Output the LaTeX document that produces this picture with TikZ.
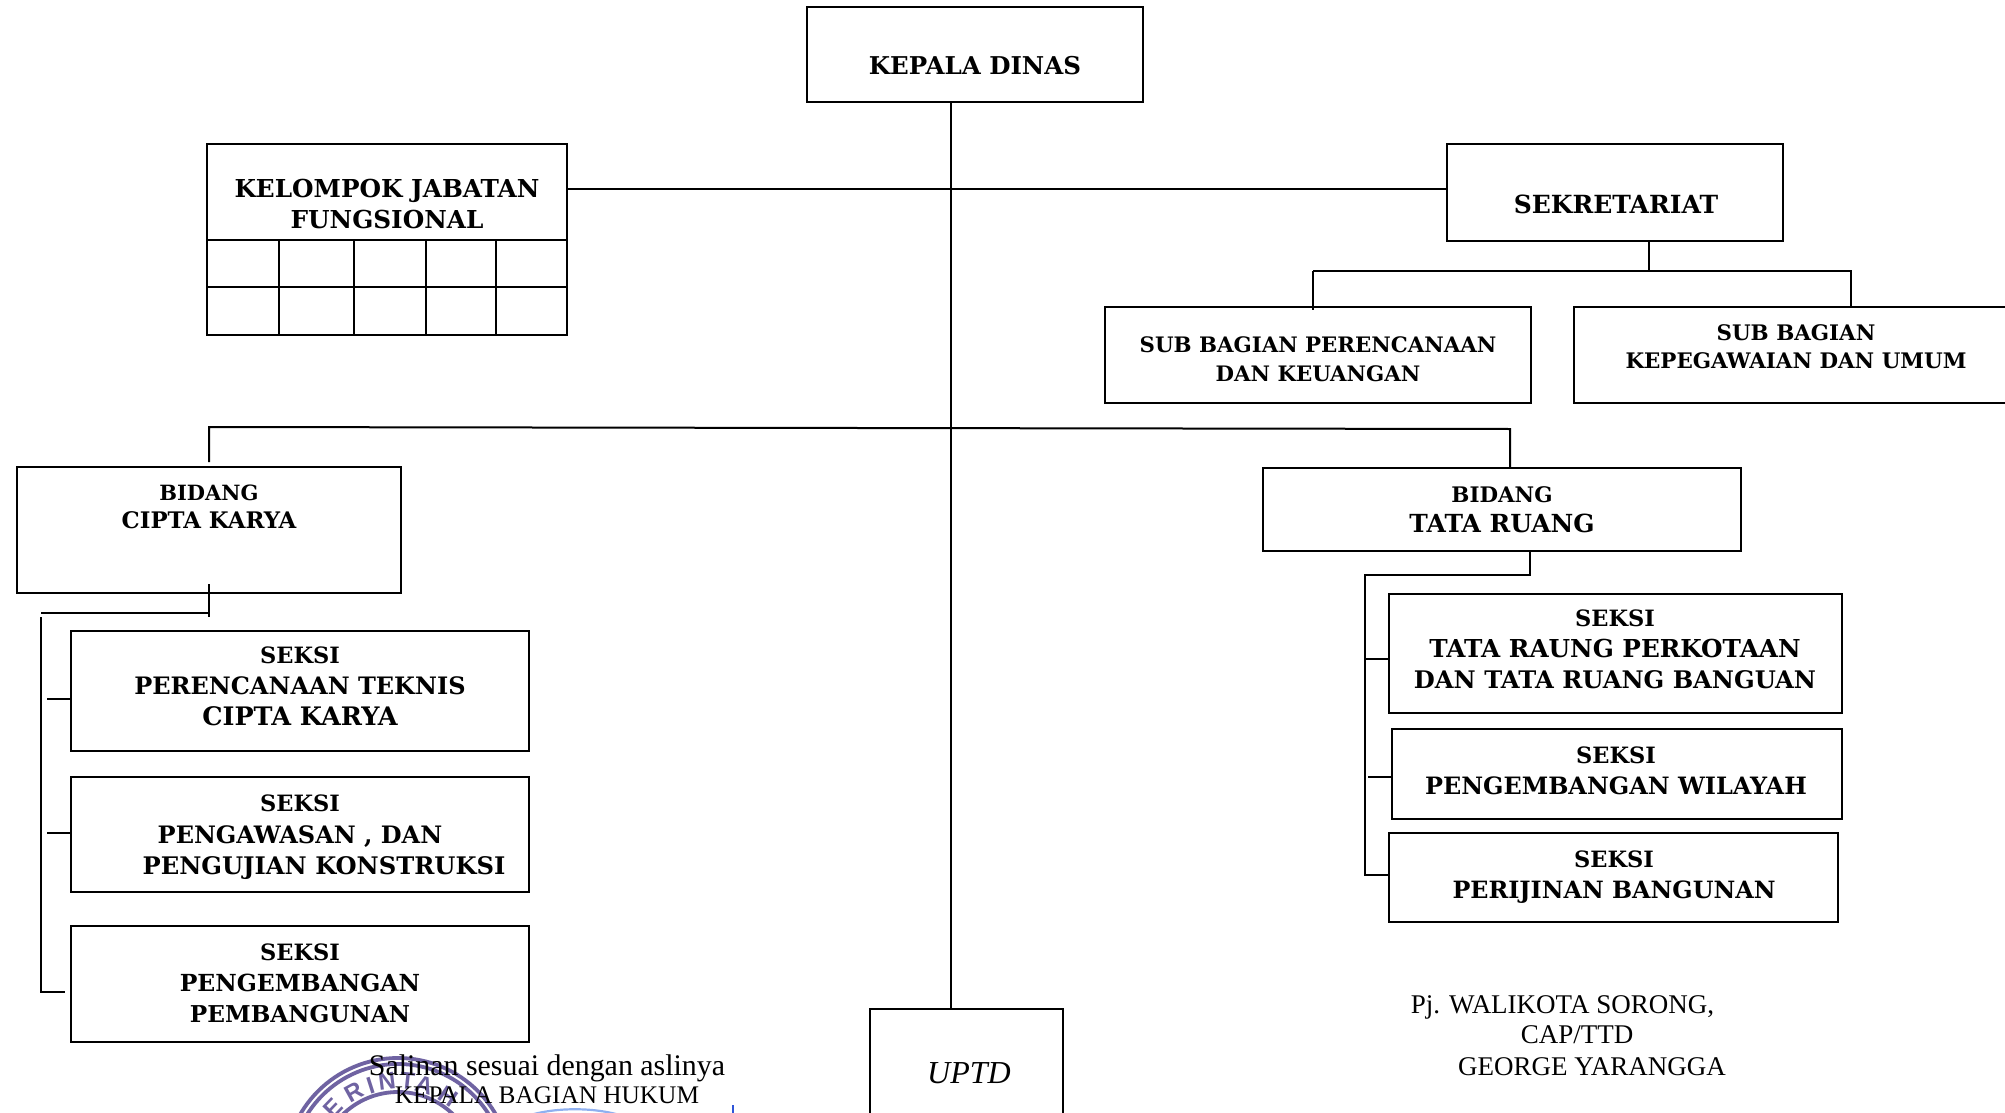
\documentclass[tikz,border=0pt]{standalone}
\usepackage{fontspec}
\setmainfont{Liberation Serif}
\newfontfamily\bkfont{DejaVu Serif}
\newfontfamily\stampfont{Liberation Sans}
\usetikzlibrary{fit,calc}
\definecolor{stampc}{HTML}{6F63A2}
\definecolor{signl}{HTML}{8FB0F0}
\definecolor{signd}{HTML}{2F55D8}
\newcommand{\sz}[2]{\fontsize{#1}{31}\selectfont #2}
\newcommand{\mkbox}[5]{\node[boxn,fit={(#2,#3)(#4,#5)}] (#1) {};}
\tikzset{
  boxn/.style={draw=black,line width=2pt,inner sep=0pt,outer sep=0pt},
  cella/.style={draw=black,line width=1.8pt,inner sep=0pt,outer sep=0pt},
  lbl/.style={align=center,inner sep=0pt,font=\bkfont\bfseries\fontsize{23}{#1}\selectfont,text=black},
  lbl/.default=30,
  plain/.style={align=center,inner sep=0pt,text=black,anchor=base},
  conn/.style={draw=black,line width=2pt},
  ring/.style={draw=stampc,line width=3.8pt},
  stch/.style={inner sep=0pt,text=stampc,font=\stampfont\bfseries\fontsize{24}{24}\selectfont}
}
\begin{document}
\begin{tikzpicture}[x=1pt,y=-1pt]
\path[use as bounding box] (0,0) rectangle (2005,1113);
\clip (0,0) rectangle (2005,1113);
\fill[white] (0,0) rectangle (2005,1113);
% stamp
\coordinate (stampc) at (398,1171);
\draw[ring] (stampc) circle[radius=113];
\draw[ring] (stampc) circle[radius=107];
\draw[ring] (stampc) circle[radius=79];
\foreach \c/\a/\n in {E/-136/a,R/-119/b,I/-107.7/c,N/-97/d,T/-84/e,A/-73/f,H/-56/g}{
  \node[stch,rotate={-\a-90}] (st\n) at ($(stampc)+(\a:90)$) {\c};
}
% signature fragments
\coordinate (sgA) at (527,1116);
\coordinate (sgB) at (623,1116);
\coordinate (sgC) at (733,1105);
\coordinate (sgD) at (733,1116);
\draw[signl,line width=2.2pt] (sgA) .. controls (555,1107) and (595,1107) .. (sgB);
\draw[signd,line width=2pt] (sgC) -- (sgD);
% boxes
\mkbox{kepala}{807}{7}{1143}{102}
\mkbox{kjf}{207}{144.5}{567}{240}
\mkbox{sek}{1447}{144.5}{1783}{241}
\mkbox{subp}{1105}{307}{1531}{403}
\mkbox{subk}{1574}{307}{2015}{403}
\mkbox{ck}{17}{467}{401}{593}
\mkbox{tr}{1263}{468}{1741}{551}
\mkbox{sa}{71}{631}{529}{751}
\mkbox{sb}{71}{777}{529}{892}
\mkbox{sc}{71}{926}{529}{1042}
\mkbox{ra}{1389}{594}{1842}{713}
\mkbox{rb}{1392}{729}{1842}{819}
\mkbox{rc}{1389}{833}{1838}{922}
\mkbox{uptd}{870}{1009}{1063}{1125}
% grid cells
\foreach \n/\xa/\xb in {1/207/279,2/279/354,3/354/426,4/426/496,5/496/567}{
  \node[cella,fit={(\xa,240)(\xb,287)}] (cu\n) {};
  \node[cella,fit={(\xa,287)(\xb,335)}] (cl\n) {};
}
% connector guide points
\coordinate (trunk) at (951,0);
\coordinate (hfung) at (0,189);
\coordinate (secStem) at (1649,271);
\coordinate (secL) at (1313,271);
\coordinate (secR) at (1851,271);
\coordinate (secLe) at (1313,310);
\coordinate (busL) at (209,427);
\coordinate (busR) at (1510,429);
\coordinate (busLe) at (209,462);
\coordinate (ckS) at (209,584);
\coordinate (ckE) at (209,617);
\coordinate (ckH) at (209,613);
\coordinate (ckT) at (41,613);
\coordinate (ckV) at (41,617);
\coordinate (ckB) at (41,992);
\coordinate (ckBe) at (65,992);
\coordinate (ckt1) at (47,699);
\coordinate (ckt2) at (47,833);
\coordinate (trS) at (1530,575);
\coordinate (trT) at (1365,575);
\coordinate (trB) at (1365,875);
\coordinate (trt1) at (1365,659);
\coordinate (trt2) at (1368,777);
% connectors
\draw[conn] (kepala.south -| trunk) -- (uptd.north -| trunk);
\draw[conn] (kjf.east |- hfung) -- (sek.west |- hfung);
\draw[conn] (sek.south -| secStem) -- (secStem);
\draw[conn] (secL) -- (secR) -- (subk.north -| secR);
\draw[conn] (secL) -- (secLe);
\draw[conn] (busLe) -- (busL) -- (busR) -- (tr.north -| busR);
\draw[conn] (ckS) -- (ckE);
\draw[conn] (ckH) -- (ckT);
\draw[conn] (ckV) -- (ckB) -- (ckBe);
\draw[conn] (ckt1) -- (sa.west |- ckt1);
\draw[conn] (ckt2) -- (sb.west |- ckt2);
\draw[conn] (tr.south -| trS) -- (trS) -- (trT) -- (trB) -- (rc.west |- trB);
\draw[conn] (trt1) -- (ra.west |- trt1);
\draw[conn] (trt2) -- (rb.west |- trt2);
% labels
\node[lbl] (tkepala) at (975,65.5) {\sz{24.5}{KEPALA DINAS}};
\node[lbl=31] (tkjf) at (387,204) {\sz{24.7}{KELOMPOK JABATAN}\\\sz{24.7}{FUNGSIONAL}};
\node[lbl] (tsek) at (1616,204) {\sz{25}{SEKRETARIAT}};
\node[lbl=29] (tsubp) at (1318,359.5) {\sz{21.3}{SUB BAGIAN PERENCANAAN}\\\sz{21.3}{DAN KEUANGAN}};
\node[lbl=28] (tsubk) at (1796,347) {\sz{21.4}{SUB BAGIAN}\\\sz{21.4}{KEPEGAWAIAN DAN UMUM}};
\node[lbl=28] (tck) at (209,506.5) {\sz{21}{BIDANG}\\\sz{22.8}{CIPTA KARYA}};
\node[lbl=30] (ttr) at (1502,510) {\sz{21.4}{BIDANG}\\\sz{24.9}{TATA RUANG}};
\node[lbl=31] (tsa) at (300,686.5) {\sz{22.5}{SEKSI}\\\sz{24}{PERENCANAAN TEKNIS}\\\sz{25.5}{CIPTA KARYA}};
\node[lbl=31.5] (tsb) at (300,837.5) {\sz{22.5}{SEKSI}\\\sz{24}{PENGAWASAN , DAN}\\\hspace*{48pt}\sz{24.2}{PENGUJIAN KONSTRUKSI}};
\node[lbl=31] (tsc) at (300,983) {\sz{22.5}{SEKSI}\\\sz{23.5}{PENGEMBANGAN}\\\sz{23.2}{PEMBANGUNAN}};
\node[lbl=31] (tra) at (1615,649) {\sz{22.5}{SEKSI}\\\sz{24.7}{TATA RAUNG PERKOTAAN}\\\sz{24.2}{DAN TATA RUANG BANGUAN}};
\node[lbl=31] (trb) at (1616,771) {\sz{22.5}{SEKSI}\\\sz{23.9}{PENGEMBANGAN WILAYAH}};
\node[lbl=31] (trc) at (1614,877) {\sz{22.5}{SEKSI}\\\sz{23.8}{PERIJINAN BANGUNAN}};
\node[align=center,inner sep=0pt,font=\fontsize{32}{36}\selectfont\itshape] (tup) at (969,1073) {UPTD};
\node[plain,font=\fontsize{29.9}{32}\selectfont] (sal) at (547,1075.5) {Salinan sesuai dengan aslinya};
\node[plain,font=\fontsize{25.3}{28}\selectfont] (kbh) at (547,1103) {KEPALA BAGIAN HUKUM};
\node[plain,font=\fontsize{27}{28}\selectfont] (wal) at (1562.5,1013) {Pj. WALIKOTA SORONG,};
\node[plain,font=\fontsize{27}{28}\selectfont] (cap) at (1577,1043) {CAP/TTD};
\node[plain,font=\fontsize{27}{28}\selectfont] (geo) at (1592,1075) {GEORGE YARANGGA};
\end{tikzpicture}
\end{document}
